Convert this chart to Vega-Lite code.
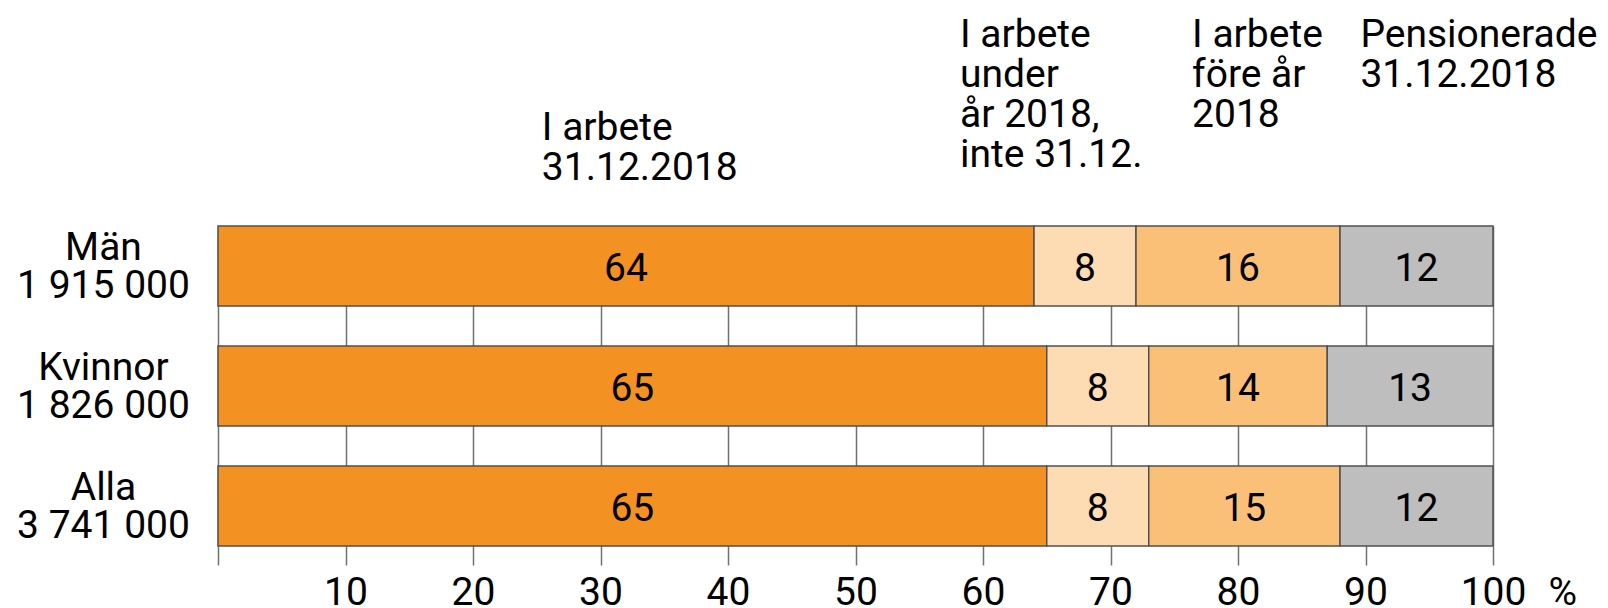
{
  "$schema": "https://vega.github.io/schema/vega-lite/v6.json",
  "width": 1275,
  "height": 320,
  "autosize": {"type": "none"},
  "padding": {"left": 218, "top": 226, "right": 115, "bottom": 62},
  "background": "white",
  "config": {"view": {"stroke": null}, "font": "Roboto"},
  "datasets": {
    "bars": [
      {"group": "Män|1 915 000", "cat": "I arbete 31.12.2018", "ord": 1, "value": 64},
      {"group": "Män|1 915 000", "cat": "I arbete under år 2018, inte 31.12.", "ord": 2, "value": 8},
      {"group": "Män|1 915 000", "cat": "I arbete före år 2018", "ord": 3, "value": 16},
      {"group": "Män|1 915 000", "cat": "Pensionerade 31.12.2018", "ord": 4, "value": 12},
      {"group": "Kvinnor|1 826 000", "cat": "I arbete 31.12.2018", "ord": 1, "value": 65},
      {"group": "Kvinnor|1 826 000", "cat": "I arbete under år 2018, inte 31.12.", "ord": 2, "value": 8},
      {"group": "Kvinnor|1 826 000", "cat": "I arbete före år 2018", "ord": 3, "value": 14},
      {"group": "Kvinnor|1 826 000", "cat": "Pensionerade 31.12.2018", "ord": 4, "value": 13},
      {"group": "Alla|3 741 000", "cat": "I arbete 31.12.2018", "ord": 1, "value": 65},
      {"group": "Alla|3 741 000", "cat": "I arbete under år 2018, inte 31.12.", "ord": 2, "value": 8},
      {"group": "Alla|3 741 000", "cat": "I arbete före år 2018", "ord": 3, "value": 15},
      {"group": "Alla|3 741 000", "cat": "Pensionerade 31.12.2018", "ord": 4, "value": 12}
    ],
    "ann1": [
      {"group": "Män|1 915 000", "x": 25.4, "t": "I arbete|31.12.2018"}
    ],
    "ann2": [
      {"group": "Män|1 915 000", "x": 58.2, "t": "I arbete|under|år 2018,|inte 31.12."},
      {"group": "Män|1 915 000", "x": 76.4, "t": "I arbete|före år|2018"},
      {"group": "Män|1 915 000", "x": 89.6, "t": "Pensionerade|31.12.2018"}
    ]
  },
  "layer": [
    {
      "data": {"name": "bars"},
      "mark": {"type": "bar", "stroke": "#505050", "strokeWidth": 1.5},
      "encoding": {
        "y": {
          "field": "group", "type": "nominal",
          "sort": ["Män|1 915 000", "Kvinnor|1 826 000", "Alla|3 741 000"],
          "scale": {"paddingInner": 0.3333, "paddingOuter": 0},
          "axis": {
            "title": null, "domain": false, "ticks": false, "tickSize": 0,
            "labelExpr": "split(datum.label, '|')",
            "labelAlign": "center", "labelBaseline": "middle",
            "labelPadding": 115, "labelFontSize": 39, "labelLineHeight": 38,
            "labelOffset": -18,
            "labelColor": "black", "labelFont": "Roboto", "grid": false
          }
        },
        "x": {
          "field": "value", "type": "quantitative", "stack": "zero",
          "scale": {"domain": [0, 100], "nice": false},
          "axis": {
            "values": [0, 10, 20, 30, 40, 50, 60, 70, 80, 90, 100],
            "grid": true, "gridColor": "#707070", "gridWidth": 1.5,
            "tickColor": "#707070", "tickWidth": 1.5, "tickSize": 19,
            "domain": false,
            "labelExpr": "datum.value == 0 ? '' : datum.label",
            "labelFontSize": 39, "labelColor": "black", "labelFont": "Roboto",
            "labelPadding": 8, "labelFlush": false, "labelOverlap": false,
            "title": "%", "titleX": 1330, "titleY": 58,
            "titleFontSize": 39, "titleFontWeight": "normal", "titleColor": "black",
            "titleFont": "Roboto", "titleAlign": "left", "titleBaseline": "alphabetic", "titleAnchor": null
          }
        },
        "color": {
          "field": "cat", "type": "nominal",
          "scale": {
            "domain": ["I arbete 31.12.2018", "I arbete under år 2018, inte 31.12.", "I arbete före år 2018", "Pensionerade 31.12.2018"],
            "range": ["#F39123", "#FDDCB3", "#FBC078", "#BDBEBD"]
          },
          "legend": null
        },
        "order": {"field": "ord", "type": "quantitative"}
      }
    },
    {
      "data": {"name": "bars"},
      "transform": [
        {"stack": "value", "groupby": ["group"], "sort": [{"field": "ord"}], "as": ["v0", "v1"]},
        {"calculate": "(datum.v0 + datum.v1) / 2", "as": "mid"}
      ],
      "mark": {"type": "text", "fontSize": 39, "font": "Roboto", "color": "black", "baseline": "middle", "align": "center", "dy": 3},
      "encoding": {
        "y": {"field": "group", "type": "nominal", "sort": ["Män|1 915 000", "Kvinnor|1 826 000", "Alla|3 741 000"]},
        "x": {"field": "mid", "type": "quantitative"},
        "text": {"field": "value", "type": "quantitative"}
      }
    },
    {
      "data": {"name": "ann1"},
      "mark": {"type": "text", "fontSize": 39, "font": "Roboto", "color": "black", "align": "left", "baseline": "alphabetic", "lineBreak": "|", "lineHeight": 40, "dy": -86},
      "encoding": {
        "y": {"field": "group", "type": "nominal", "bandPosition": 0, "sort": ["Män|1 915 000", "Kvinnor|1 826 000", "Alla|3 741 000"]},
        "x": {"field": "x", "type": "quantitative"},
        "text": {"field": "t", "type": "nominal"}
      }
    },
    {
      "data": {"name": "ann2"},
      "mark": {"type": "text", "fontSize": 39, "font": "Roboto", "color": "black", "align": "left", "baseline": "alphabetic", "lineBreak": "|", "lineHeight": 40, "dy": -179},
      "encoding": {
        "y": {"field": "group", "type": "nominal", "bandPosition": 0, "sort": ["Män|1 915 000", "Kvinnor|1 826 000", "Alla|3 741 000"]},
        "x": {"field": "x", "type": "quantitative"},
        "text": {"field": "t", "type": "nominal"}
      }
    },
    {
      "mark": {"type": "rule", "y": -41, "y2": -10, "stroke": "#707070", "strokeWidth": 1.5},
      "encoding": {"x": {"datum": 68, "type": "quantitative"}}
    },
    {
      "mark": {"type": "rule", "y": -79, "y2": -15, "stroke": "#707070", "strokeWidth": 1.5},
      "encoding": {"x": {"datum": 81, "type": "quantitative"}}
    },
    {
      "mark": {"type": "rule", "y": -124, "y2": -14, "stroke": "#707070", "strokeWidth": 1.5},
      "encoding": {"x": {"datum": 94, "type": "quantitative"}}
    }
  ]
}
